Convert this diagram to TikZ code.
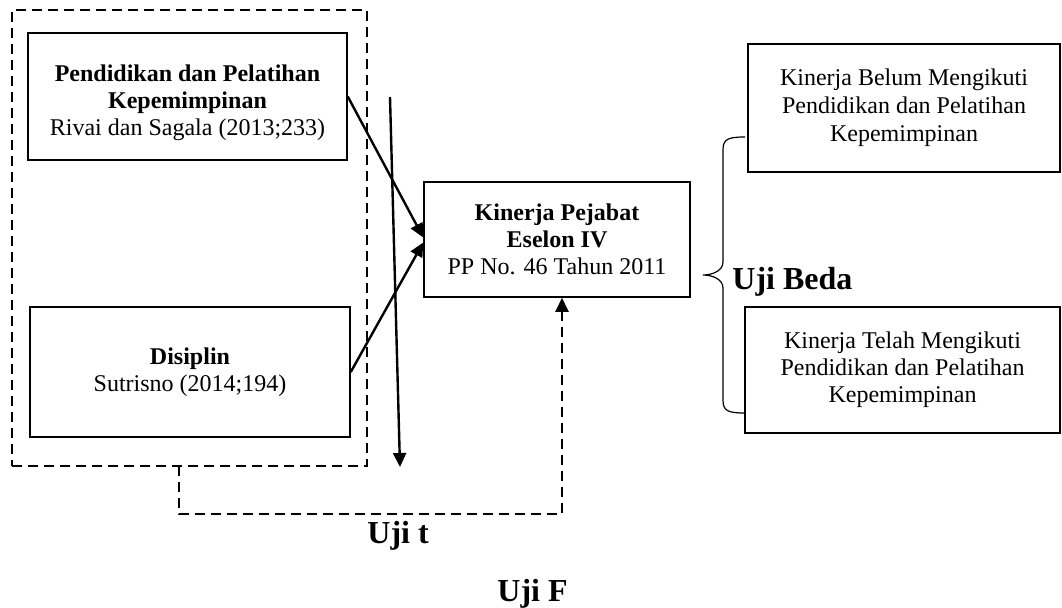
\documentclass[tikz,border=0pt]{standalone}
\usepackage{fontspec}
\setmainfont{Liberation Serif}
\usetikzlibrary{arrows.meta}
\begin{document}
\begin{tikzpicture}[x=0.5pt,y=-0.5pt,
  box/.style={draw, line width=0.75pt, inner sep=0pt, align=center, font=\fontsize{12}{13.5}\selectfont},
  txt/.style={inner sep=0pt, align=center, font=\fontsize{12}{13.5}\selectfont},
  conn/.style={line width=1.2pt, -{Triangle[length=7pt,width=6.5pt]}},
  dsh/.style={line width=1pt, dash pattern=on 5pt off 3pt},
  big/.style={inner sep=0pt, font=\fontsize{16}{18}\selectfont\bfseries}]
\useasboundingbox (0,0) rectangle (1062,607);

% outer dashed group
\node[draw, dsh, minimum width=177.5pt, minimum height=228pt, inner sep=0pt] (grp) at (189.5,238) {};

% left boxes
\node[box, minimum width=159.5pt, minimum height=63.5pt] (b1) at (187.5,96.5) {};
\node[txt] (b1t) at (187.5,103) {\textbf{Pendidikan dan Pelatihan}\\ \textbf{Kepemimpinan}\\ Rivai dan Sagala (2013;233)};
\node[box, minimum width=160pt, minimum height=65pt] (b2) at (190,372) {\textbf{Disiplin}\\ Sutrisno (2014;194)};

% centre box
\node[box, minimum width=133pt, minimum height=57.5pt] (kin) at (557,239.5) {\textbf{Kinerja Pejabat}\\ \textbf{Eselon IV}\\ PP No. 46 Tahun 2011};

% right boxes
\node[box, line width=0.9pt, minimum width=156pt, minimum height=64pt, font=\fontsize{12}{14}\selectfont] (ra) at (904,108) {Kinerja Belum Mengikuti\\ Pendidikan dan Pelatihan\\ Kepemimpinan};
\node[box, line width=0.9pt, minimum width=157.5pt, minimum height=63pt, font=\fontsize{12}{13.5}\selectfont] (rb) at (902.5,370) {Kinerja Telah Mengikuti\\ Pendidikan dan Pelatihan\\ Kepemimpinan};

% arrows into centre box
\draw[conn] (b1.east) -- ([yshift=1pt]kin.west);
\draw[conn] (b2.east) -- ([yshift=-1.5pt]kin.west);

% long vertical arrow
\coordinate (v1) at (390,97);
\coordinate (v2) at (400,467);
\draw[conn] (v1) -- (v2);

% dashed Uji t path
\coordinate (t1) at (179,466);
\coordinate (t2) at (562,514);
\draw[dsh, -{Triangle[length=7pt,width=6.5pt]}] (t1) |- (t2) -- (t2 |- kin.south);

% brace
\draw[line width=0.6pt] (745,137) .. controls (728,137) and (723,139) .. (723,150) -- (723,262)
  .. controls (723,271) and (712,275) .. (703,275)
  .. controls (712,275) and (723,279) .. (723,288) -- (723,400)
  .. controls (723,411) and (728,413) .. (745,413);

% labels
\node[big, anchor=base west] (ub) at (732,289) {Uji Beda};
\node[big, anchor=base west] (ut) at (367,543) {Uji t};
\node[big, anchor=base west] (uf) at (497,601) {Uji F};
\end{tikzpicture}
\end{document}
